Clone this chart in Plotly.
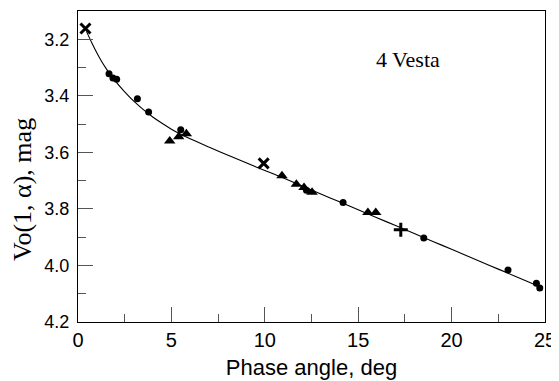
import plotly.graph_objects as go

# Observations (phase angle in deg, reduced magnitude)
circle_x = [1.66, 1.87, 2.07, 3.18, 3.78, 5.50, 12.23, 14.19, 18.51, 23.02, 24.54, 24.72]
circle_y = [3.322, 3.337, 3.341, 3.410, 3.457, 3.520, 3.734, 3.777, 3.903, 4.016, 4.063, 4.080]

tri_x = [4.91, 5.39, 5.80, 10.92, 11.69, 12.10, 12.53, 15.52, 15.94]
tri_y = [3.560, 3.545, 3.534, 3.683, 3.713, 3.724, 3.741, 3.813, 3.813]

cross_x = [0.40, 9.94]
cross_y = [3.162, 3.639]

plus_x = [17.28]
plus_y = [3.874]

# Fitted curve
curve_x = [0.45, 0.75, 1.0, 1.25, 1.5, 1.75, 2.0, 2.5, 3.0, 3.5, 4.0, 4.5, 5.0, 5.5,
           6.0, 7.0, 8.0, 9.0, 10.0, 11.0, 12.0, 13.0, 14.0, 15.0, 16.0, 17.0, 18.0,
           19.0, 20.0, 21.0, 22.0, 23.0, 24.0, 24.75]
curve_y = [3.172, 3.214, 3.247, 3.277, 3.303, 3.327, 3.348, 3.386, 3.420, 3.449, 3.475,
           3.497, 3.518, 3.536, 3.552, 3.581, 3.609, 3.637, 3.664, 3.691, 3.719, 3.747,
           3.775, 3.803, 3.831, 3.859, 3.887, 3.915, 3.943, 3.971, 3.999, 4.027, 4.055,
           4.076]

y_ticks = [3.2, 3.4, 3.6, 3.8, 4.0, 4.2]
x_ticks = [0, 5, 10, 15, 20, 25]

fig = go.Figure()
fig.add_trace(go.Scatter(x=curve_x, y=curve_y, mode="lines",
                         line=dict(color="black", width=1.1, shape="spline"),
                         showlegend=False, hoverinfo="skip"))
fig.add_trace(go.Scatter(x=circle_x, y=circle_y, mode="markers",
                         marker=dict(symbol="circle", size=7, color="black"),
                         showlegend=False))
fig.add_trace(go.Scatter(x=tri_x, y=tri_y, mode="markers",
                         marker=dict(symbol="triangle-up", size=10, color="black"),
                         showlegend=False))
fig.add_trace(go.Scatter(x=cross_x, y=cross_y, mode="markers",
                         marker=dict(symbol="x-thin", size=10, color="black",
                                     line=dict(color="black", width=3)),
                         showlegend=False))
fig.add_trace(go.Scatter(x=plus_x, y=plus_y, mode="markers",
                         marker=dict(symbol="cross-thin", size=10, color="black",
                                     line=dict(color="black", width=3)),
                         showlegend=False))

axis_common = dict(
    showgrid=False, zeroline=False, showline=True, linecolor="black", linewidth=1.3,
    mirror=True, ticks="inside", ticklen=15, tickwidth=1.2, tickcolor="#555555",
    automargin=False,
)

fig.update_xaxes(
    range=[0, 25], tickvals=x_ticks, ticktext=[str(v) for v in x_ticks],
    minor=dict(dtick=2.5, tick0=0, ticks="inside", ticklen=8, tickwidth=1.2,
               tickcolor="#555555"),
    tickfont=dict(family="Liberation Sans", size=20, color="black"),
    title=dict(text="Phase angle, deg", standoff=9,
               font=dict(family="Liberation Sans", size=22, color="black")),
    **axis_common,
)
fig.update_yaxes(
    range=[4.2, 3.1], tickvals=y_ticks, ticktext=[f"{v:.1f}" for v in y_ticks],
    minor=dict(dtick=0.1, tick0=3.1, ticks="inside", ticklen=8, tickwidth=1.2,
               tickcolor="#555555"),
    tickfont=dict(family="Liberation Sans", size=18, color="black"),
    ticklabelstandoff=4,
    **axis_common,
)

fig.add_annotation(text="Vo(1, α), mag", xref="paper", yref="paper",
                   x=(22 - 78) / 467, y=(322 - 190) / 311, textangle=-90,
                   showarrow=False, xanchor="center", yanchor="middle",
                   font=dict(family="Liberation Serif", size=26, color="black"))
fig.add_annotation(text="4 Vesta", xref="paper", yref="paper",
                   x=(408 - 78) / 467, y=(322 - 59) / 311,
                   showarrow=False, xanchor="center", yanchor="middle",
                   font=dict(family="Liberation Serif", size=22, color="black"))

# The page body has an 8 px default margin, so the figure is 8 px smaller
# and its left/top margins are reduced by 8 px to keep the plot area in place.
fig.update_layout(
    width=551, height=373,
    margin=dict(l=70, r=14, t=3, b=59),
    paper_bgcolor="white", plot_bgcolor="white",
)

fig.write_html("out.html")
